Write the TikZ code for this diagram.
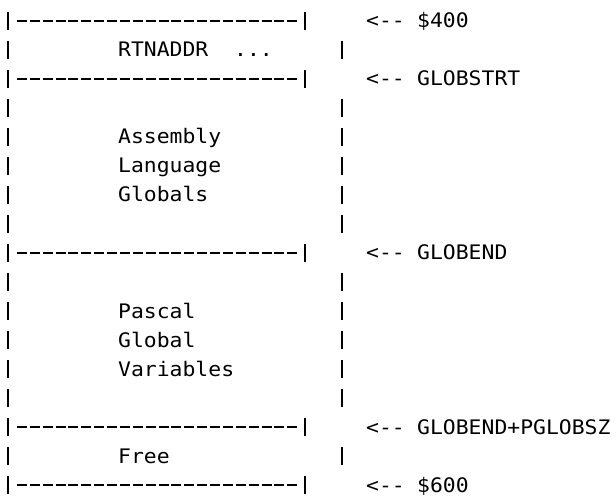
\documentclass[tikz,border=0pt]{standalone}
\usepackage{fontspec}
\newfontfamily\termfont[FakeStretch=1.07]{DejaVu Sans Mono}
\begin{document}
\begin{tikzpicture}[x=1pt,y=-1pt,
  bar/.style={line width=1.5pt},
  rule/.style={line width=1.5pt, dash pattern=on 10pt off 2.87pt},
  txt/.style={anchor=base west, inner sep=0pt,
    font=\termfont\fontsize{20}{20}\selectfont}]
\useasboundingbox (0,0) rectangle (616,497);
% row centres: 21 + 29*(r-1)
% left edge, one bar per row
\foreach \r in {1,...,17}{
  \pgfmathsetmacro{\yy}{21+29*(\r-1)}
  \draw[bar] (8,\yy-9) -- (8,\yy+9);
}
% separator rows: dashed rule closed by a bar
\foreach \r in {1,3,9,15,17}{
  \pgfmathsetmacro{\yy}{21+29*(\r-1)}
  \coordinate (s\r a) at (17,\yy);
  \coordinate (s\r b) at (300,\yy);
  \draw[rule] (s\r a) -- (s\r b);
  \draw[bar] (305,\yy-9) -- (305,\yy+9);
}
% inner rows: right bar further out
\foreach \r in {2,4,5,6,7,8,10,11,12,13,14,16}{
  \pgfmathsetmacro{\yy}{21+29*(\r-1)}
  \draw[bar] (342,\yy-9) -- (342,\yy+9);
}
% block contents
\node[txt] (rtn)  at (118,{21+29*1+7}) {RTNADDR};
\node[txt] (dots) at (234,{21+29*1+7}) {...};
\node[txt] (asm1) at (118,{21+29*4+7}) {Assembly};
\node[txt] (asm2) at (118,{21+29*5+7}) {Language};
\node[txt] (asm3) at (118,{21+29*6+7}) {Globals};
\node[txt] (pas1) at (118,{21+29*10+7}) {Pascal};
\node[txt] (pas2) at (118,{21+29*11+7}) {Global};
\node[txt] (pas3) at (118,{21+29*12+7}) {Variables};
\node[txt] (free) at (118,{21+29*15+7}) {Free};
% address markers
\foreach \r/\lab/\nm in {1/\$400/a, 3/GLOBSTRT/b, 9/GLOBEND/c, 15/GLOBEND+PGLOBSZ/d, 17/\$600/e}{
  \pgfmathsetmacro{\yy}{21+29*(\r-1)+7}
  \node[txt] (arr\nm) at (366,\yy) {<--};
  \node[txt] (lab\nm) at (417,\yy) {\lab};
}
\end{tikzpicture}
\end{document}
